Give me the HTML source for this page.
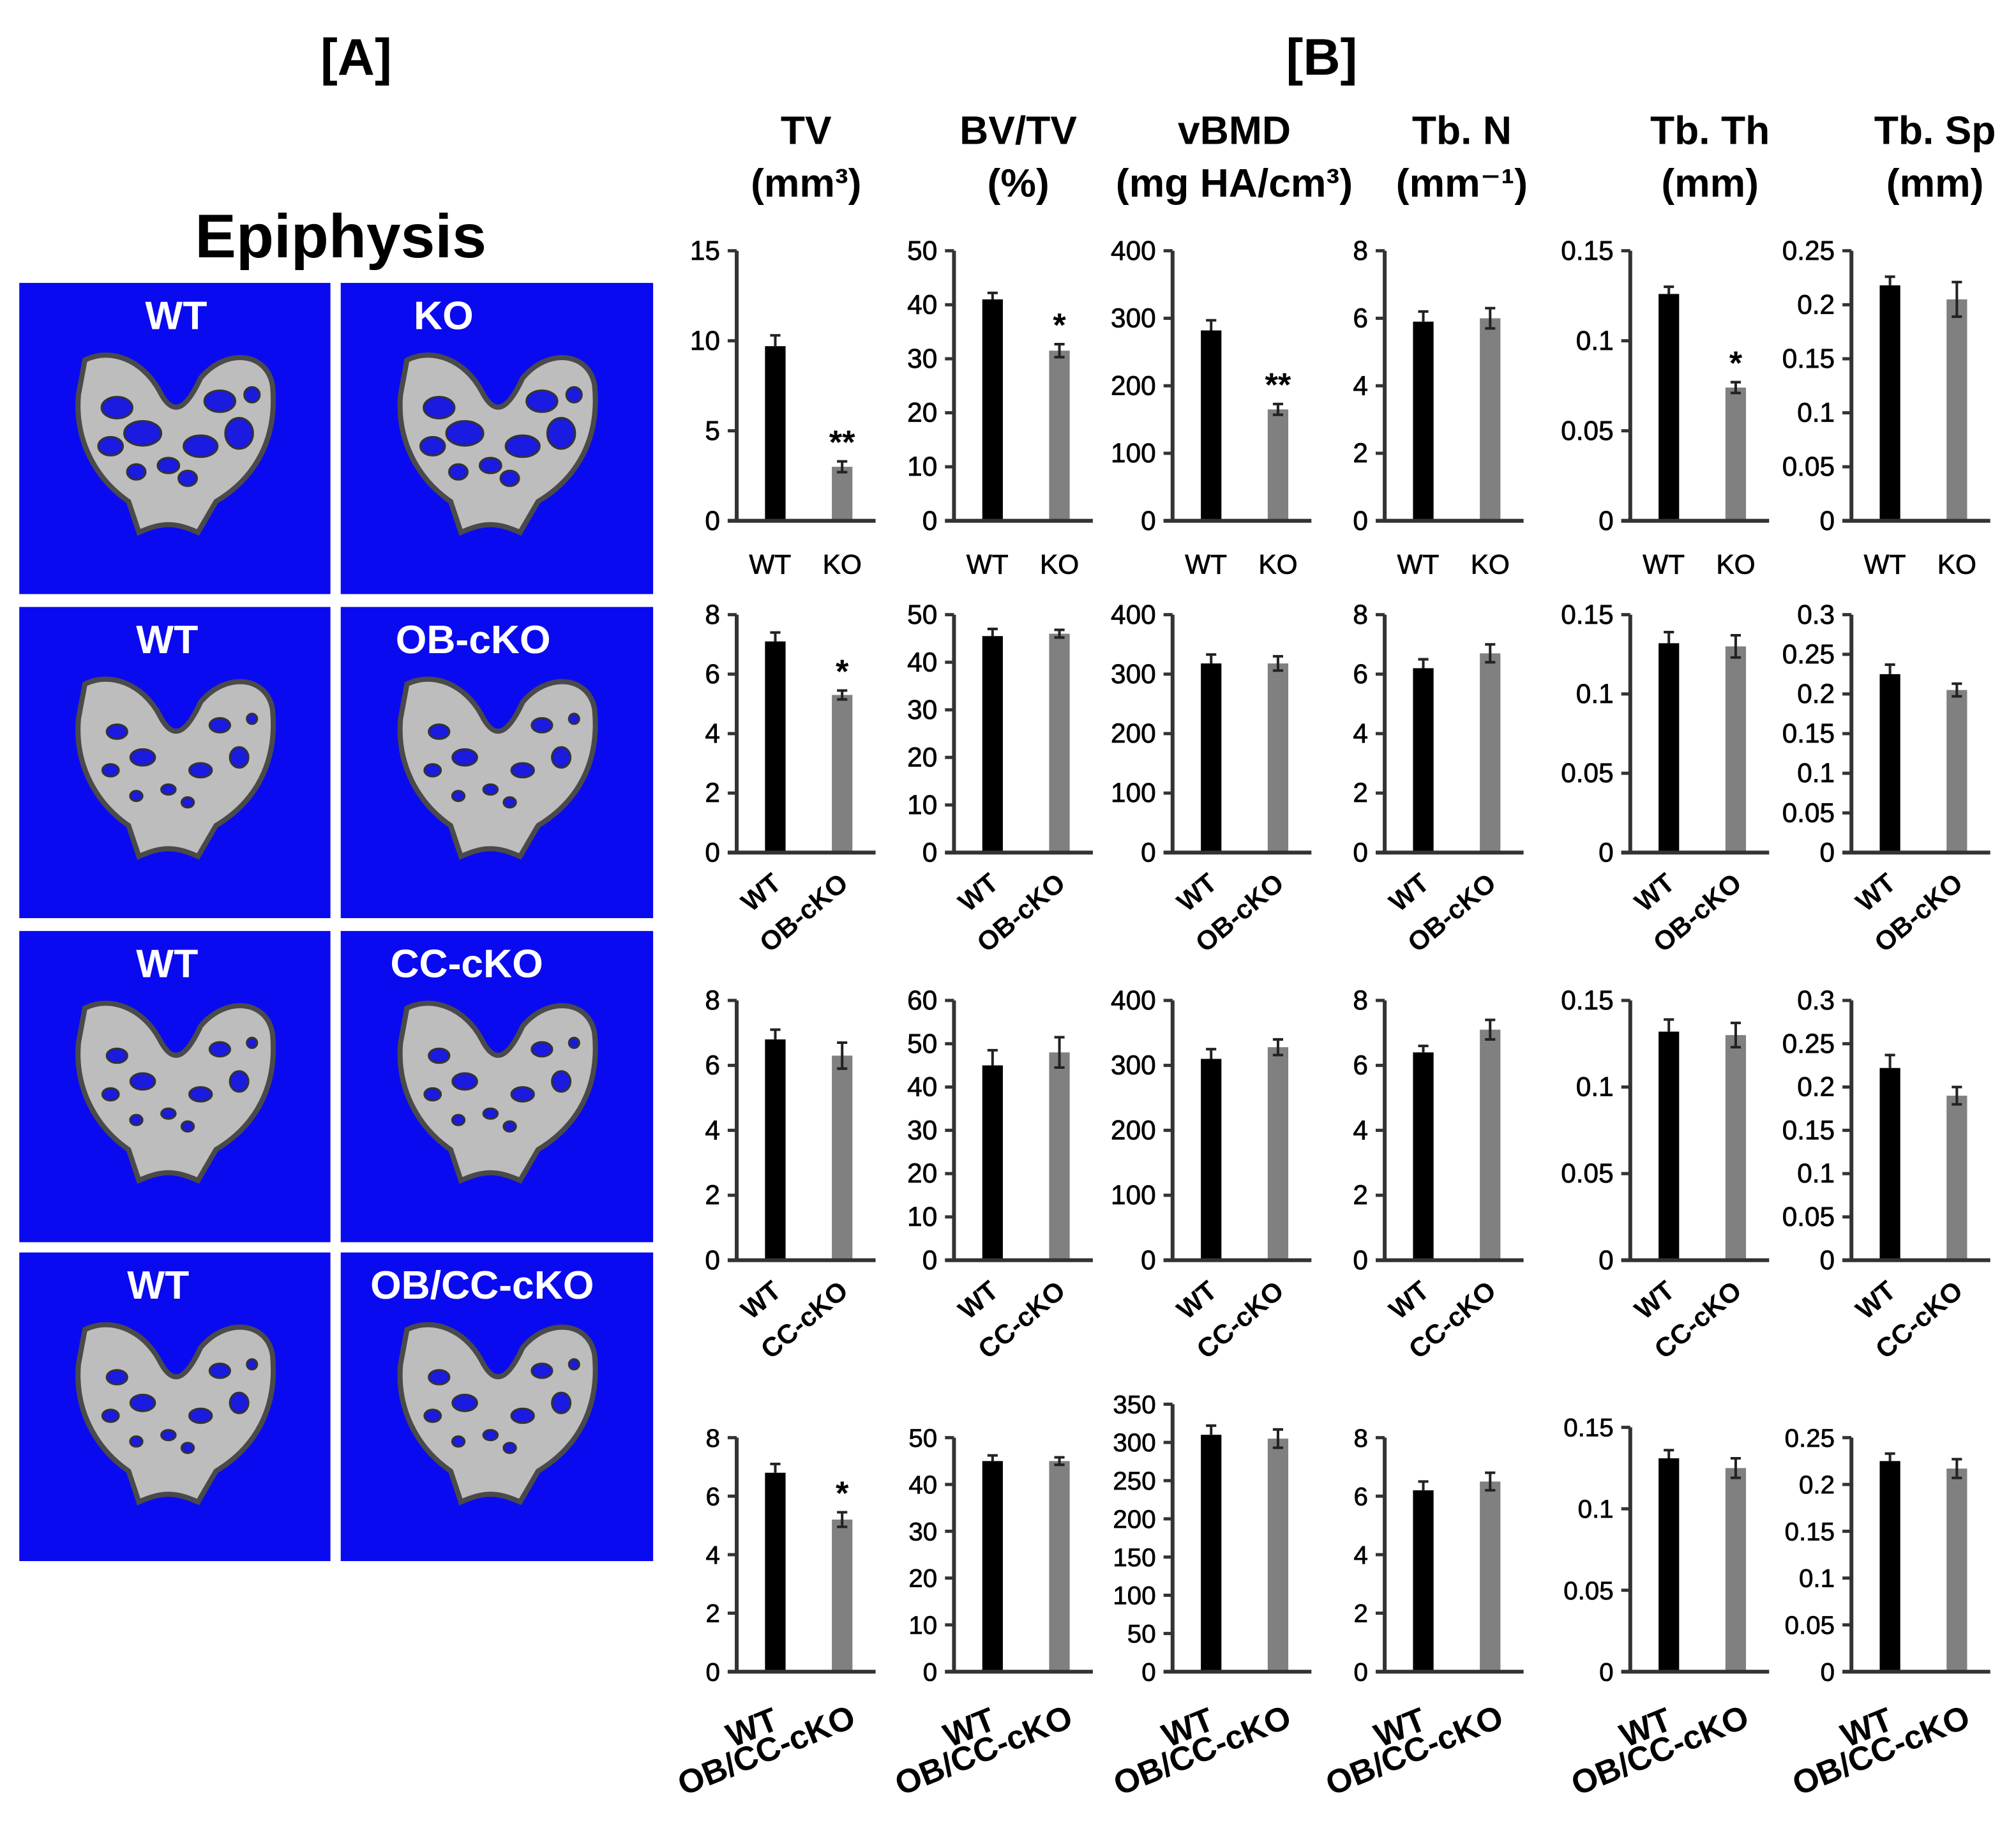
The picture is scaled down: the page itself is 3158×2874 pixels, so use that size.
<!DOCTYPE html>
<html><head><meta charset="utf-8"><style>
html,body{margin:0;padding:0;background:#fff}
svg{display:block}
text{font-family:"Liberation Sans","DejaVu Sans",sans-serif}
</style></head><body>
<svg id="fig" xmlns="http://www.w3.org/2000/svg" width="3158" height="2874" viewBox="0 0 1568 1427">
<rect width="1568" height="1427" fill="#fff"/>
<text x="277" y="58" font-size="40" font-weight="bold" text-anchor="middle">[A]</text>
<text x="1028" y="58" font-size="40" font-weight="bold" text-anchor="middle">[B]</text>
<text x="265" y="200" font-size="48" font-weight="bold" text-anchor="middle">Epiphysis</text>
<g id="imgs"></g>
<g id="charts"></g>
</svg>
<script>
const NS='http://www.w3.org/2000/svg';
// ---- chart data ----
const metrics=['TV','BV/TV','vBMD','Tb. N','Tb. Th','Tb. Sp'];
const groupLabels=['KO','OB-cKO','CC-cKO','OB/CC-cKO'];
const yMax=[[15,50,400,8,0.15,0.25],[8,50,400,8,0.15,0.3],[8,60,400,8,0.15,0.3],[8,50,350,8,0.15,0.25]];
const yStep=[[5,10,100,2,0.05,0.05],[2,10,100,2,0.05,0.05],[2,10,100,2,0.05,0.05],[2,10,50,2,0.05,0.05]];
const wtValues=[[9.7,41,282,5.9,0.126,0.218],[7.1,45.5,318,6.2,0.132,0.225],[6.8,45,310,6.4,0.132,0.222],[6.8,45,310,6.2,0.131,0.225]];
const wtErr=[[0.6,1.2,15,0.3,0.004,0.008],[0.3,1.5,15,0.3,0.007,0.012],[0.3,3.5,15,0.2,0.007,0.015],[0.3,1.2,12,0.3,0.005,0.008]];
const koValues=[[3.0,31.5,165,6.0,0.074,0.205],[5.3,46,318,6.7,0.130,0.205],[6.3,48,328,7.1,0.130,0.19],[5.2,45,305,6.5,0.125,0.217]];
const koErr=[[0.3,1.2,8,0.3,0.003,0.016],[0.15,0.8,12,0.3,0.007,0.008],[0.4,3.5,12,0.3,0.007,0.01],[0.25,0.8,12,0.3,0.006,0.01]];
const signif=[['**','*','**','','*',''],['*','','','','',''],['','','','','',''],['*','','','','','']];
// ---- layout ----
const colX=[573,742,912,1077,1268,1440];
const rowTop=[[195,195,195,195,195,195],[478,478,478,478,478,478],[778,778,778,778,778,778],[1118,1118,1092,1118,1110,1118]];
const rowBot=[405,663,980,1300];
const W=108;
function el(tag,attrs,parent,txt){const e=document.createElementNS(NS,tag);for(const k in attrs)e.setAttribute(k,attrs[k]);if(txt!==undefined)e.textContent=txt;parent.appendChild(e);return e;}
function fmt(v,step){if(step<1){return String(+v.toFixed(2));}return String(Math.round(v));}
const charts=document.getElementById('charts');
const t1=['TV','BV/TV','vBMD','Tb. N','Tb. Th','Tb. Sp'];
const t2=['(mm³)','(%)','(mg HA/cm³)','(mm⁻¹)','(mm)','(mm)'];
const tx=[627,792,960,1137,1330,1505];
for(let c=0;c<6;c++){
  const a=el('text',{x:tx[c],y:112,'font-size':31,'font-weight':'bold','text-anchor':'middle'},charts,t1[c]);
  
  const b=el('text',{x:tx[c],y:153,'font-size':31,'font-weight':'bold','text-anchor':'middle'},charts,t2[c]);
  
}
for(let r=0;r<4;r++){for(let c=0;c<6;c++){
  const g=el('g',{},charts);
  
  
  const x0=colX[c],top=rowTop[r][c],bot=rowBot[r],mx=yMax[r][c],st=yStep[r][c];
  const y=v=>bot-(v/mx)*(bot-top);
  const fs=r===3?20:21;
  const n=Math.round(mx/st);
  for(let i=0;i<=n;i++){const v=i*st,yy=y(v);
    const tk=el('line',{x1:x0-7,x2:x0,y1:yy,y2:yy,stroke:'#333','stroke-width':2.5},g);
    
    const tl=el('text',{x:x0-13,y:yy+7,'font-size':fs,'text-anchor':'end',stroke:'#000','stroke-width':0.4},g,fmt(v,st));
    
  }
  const ax=el('line',{x1:x0,x2:x0,y1:top,y2:bot,stroke:'#333','stroke-width':3},g);
  
  const vals=[wtValues[r][c],koValues[r][c]],errs=[wtErr[r][c],koErr[r][c]];
  const bx=[x0+30,x0+82];
  for(let k=0;k<2;k++){
    const yv=y(vals[k]);
    const b=el('rect',{x:bx[k]-8,y:yv,width:16,height:bot-yv,fill:k?'#808080':'#000'},g);
    
    const ye=y(vals[k]+errs[k]),yl=y(vals[k]-errs[k]);
    const eb=el('path',{d:`M${bx[k]},${ye}V${k?yl:yv}M${bx[k]-4},${ye}H${bx[k]+4}`+(k?`M${bx[k]-4},${yl}H${bx[k]+4}`:''),stroke:'#222','stroke-width':2,fill:'none'},g);
    
  }
  if(signif[r][c]){const s=el('text',{x:bx[1],y:y(koValues[r][c]+koErr[r][c])-6,'font-size':26,'font-weight':'bold','text-anchor':'middle'},g,signif[r][c]);
    }
  const xa=el('line',{x1:x0-7,x2:x0+W,y1:bot,y2:bot,stroke:'#333','stroke-width':3},g);
  
  const lab=['WT',groupLabels[r]];
  for(let k=0;k<2;k++){
    let t;
    if(r===0){t=el('text',{x:bx[k]-4+k*4,y:bot+41,'font-size':21,'text-anchor':'middle',stroke:'#000','stroke-width':0.4},g,lab[k]);}
    else if(r<3){const ex=bx[k]+6,ey=bot+26;t=el('text',{x:ex,y:ey,'font-size':21,'font-weight':'bold','text-anchor':'end',transform:`rotate(-40 ${ex} ${ey})`},g,lab[k]);}
    else{const ex=bx[k]+(k?12:4),ey=bot+(k?42:44);t=el('text',{x:ex,y:ey,'font-size':26,'font-weight':'bold','text-anchor':'end',transform:`rotate(-22 ${ex} ${ey})`},g,lab[k]);}
    
  }
}}
// ---- microCT image panels ----
const imgs=document.getElementById('imgs');
const pRows=[[220,462],[472,714],[724,966],[974,1214]];
const pCols=[[15,257],[265,508]];
const pLab=[['WT','KO'],['WT','OB-cKO'],['WT','CC-cKO'],['WT','OB/CC-cKO']];
const labX=[[137,345],[130,368],[130,363],[123,375]];
for(let r=0;r<4;r++)for(let c=0;c<2;c++){
  const [x1,x2]=pCols[c],[y1,y2]=pRows[r];
  const g=el('g',{},imgs);
  
  el('rect',{x:x1,y:y1,width:x2-x1,height:y2-y1,fill:'#0a0af0'},g);
  const cx=(x1+x2)/2,cy=y1+122;
  const d=`M${cx-70},${cy-62} C${cx-50},${cy-72} ${cx-25},${cy-62} ${cx-12},${cy-38} C${cx-2},${cy-18} ${cx+8},${cy-22} ${cx+20},${cy-48} C${cx+40},${cy-72} ${cx+72},${cy-68} ${cx+76},${cy-42} C${cx+80},${cy} ${cx+62},${cy+30} ${cx+32},${cy+48} L${cx+18},${cy+72} C${cx},${cy+64} ${cx-10},${cy+64} ${cx-28},${cy+72} L${cx-36},${cy+48} C${cx-62},${cy+30} ${cx-78},${cy} ${cx-75},${cy-35} Z`;
  el('path',{d:d,fill:'#bdbdbd',stroke:'#4a4a4a','stroke-width':4},g);
  const holes=[[-45,-25,10,7],[-25,-5,12,8],[-50,5,8,6],[35,-30,10,7],[50,-5,9,10],[20,5,11,7],[-5,20,7,5],[10,30,6,5],[-30,25,6,5],[60,-35,5,5]];
  holes.forEach(h=>el('ellipse',{cx:cx+h[0],cy:cy+h[1],rx:h[2]*(r===0?1.2:0.8),ry:h[3]*(r===0?1.2:0.8),fill:'#1a1ae0',stroke:'#333','stroke-width':1.5},g));
  const t=el('text',{x:labX[r][c],y:y1+36,'font-size':31,'font-weight':'bold',fill:'#fff','text-anchor':'middle'},g,pLab[r][c]);
  
}
</script>
</body></html>
